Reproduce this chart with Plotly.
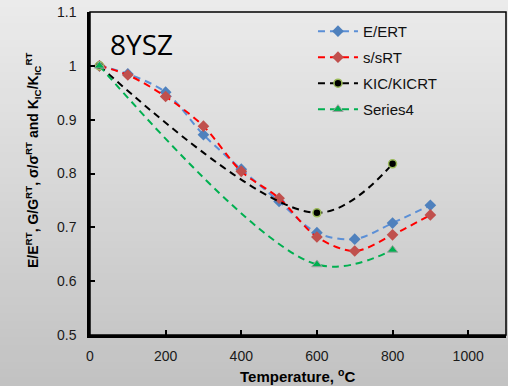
import plotly.graph_objects as go

# ---- data ----
temp_e = [25, 100, 200, 300, 400, 500, 600, 700, 800, 900]
e_ratio = [1.0, 0.985, 0.951, 0.872, 0.808, 0.748, 0.690, 0.678, 0.708, 0.741]
temp_s = [25, 100, 200, 300, 400, 500, 600, 700, 800, 900]
s_ratio = [1.0, 0.983, 0.943, 0.888, 0.804, 0.754, 0.682, 0.656, 0.686, 0.723]
temp_k = [25, 600, 800]
k_ratio = [1.0, 0.727, 0.818]
temp_g = [25, 600, 800]
g_ratio = [1.0, 0.631, 0.658]

x_ticks = [0, 200, 400, 600, 800, 1000]
y_ticks = [0.5, 0.6, 0.7, 0.8, 0.9, 1.0, 1.1]
y_tick_text = ["0.5", "0.6", "0.7", "0.8", "0.9", "1", "1.1"]

W, H = 508, 386
L, R, T, B = 90, 2, 12, 51

fig = go.Figure()

dash = "7px,5px"

fig.add_trace(go.Scatter(
    x=temp_e, y=e_ratio, name="E/ERT", mode="lines+markers",
    line=dict(color="#5B8FD6", width=2, dash=dash, shape="spline", smoothing=0.9),
    marker=dict(symbol="diamond", size=9, color="#4F81BD"),
    legendgroup="a"))
fig.add_trace(go.Scatter(
    x=temp_s, y=s_ratio, name="s/sRT", mode="lines+markers",
    line=dict(color="#FF0000", width=2, dash=dash, shape="spline", smoothing=0.9),
    marker=dict(symbol="diamond", size=9, color="#C0504D"),
    legendgroup="b"))
fig.add_trace(go.Scatter(
    x=temp_k, y=k_ratio, name="KIC/KICRT", mode="lines+markers",
    line=dict(color="#000000", width=2, dash=dash, shape="spline", smoothing=1),
    marker=dict(symbol="circle", size=8, color="#000000",
                line=dict(color="#9BBB59", width=1.5)),
    legendgroup="c"))
fig.add_trace(go.Scatter(
    x=temp_g, y=g_ratio, name="Series4", mode="lines+markers",
    line=dict(color="#00B050", width=2, dash=dash, shape="spline", smoothing=1),
    marker=dict(symbol="triangle-up", size=9, color="#00B050",
                line=dict(color="#A0A0A0", width=1)),
    legendgroup="d"))

# background vertical gradient approximated with bands
shapes = []
n = 48
top = (235, 235, 235)
bot = (194, 194, 194)
ph = H - T - B
pw = W - L - R
for i in range(n):
    f = i / (n - 1)
    c = tuple(int(round(top[k] + (bot[k] - top[k]) * f)) for k in range(3))
    y1 = 1 + T / ph - i * (H / ph) / n
    y0 = y1 - (H / ph) / n
    shapes.append(dict(type="rect", xref="paper", yref="paper",
                       x0=-L / pw - 0.01, x1=1 + R / pw + 0.01,
                       y0=y0 - 0.002, y1=y1 + 0.002, layer="below",
                       line=dict(width=0), fillcolor="rgb(%d,%d,%d)" % c))
shapes.append(dict(type="rect", xref="paper", yref="paper", x0=0, x1=1, y0=0, y1=1,
                   line=dict(color="black", width=1.5), layer="above"))

axis_font = dict(family="Liberation Sans, Arial", size=14, color="#1a1a1a")

fig.update_layout(
    width=W, height=H,
    margin=dict(l=L, r=R, t=T, b=B, pad=0),
    paper_bgcolor="#d8d8d8",
    plot_bgcolor="rgba(0,0,0,0)",
    shapes=shapes,
    showlegend=True,
    legend=dict(x=0.536, y=0.991, xanchor="left", yanchor="top",
                bgcolor="rgba(0,0,0,0)", font=dict(family="Liberation Sans, Arial", size=15, color="#111111"),
                traceorder="grouped", tracegroupgap=3.5, itemwidth=40),
    xaxis=dict(range=[0, 1100], tickvals=x_ticks, showgrid=False, zeroline=False,
               showline=True, linecolor="black", linewidth=2.5, mirror=False,
               ticks="inside", ticklen=5, tickwidth=1.5, tickcolor="black",
               tickfont=axis_font, ticklabelstandoff=6),
    yaxis=dict(range=[0.5, 1.1], tickvals=y_ticks, ticktext=y_tick_text,
               showgrid=False, zeroline=False,
               showline=True, linecolor="black", linewidth=2.5, mirror=False,
               ticks="inside", ticklen=5, tickwidth=1.5, tickcolor="black",
               tickfont=axis_font, ticklabelstandoff=8),
    annotations=[
        dict(text="8YSZ", xref="paper", yref="paper", x=(108 - L) / pw,
             y=1 - (44 - T) / ph, xanchor="left", yanchor="middle",
             showarrow=False, font=dict(family="Open Sans", size=28, color="black")),
        dict(text="<b>Temperature, <sup>o</sup>C</b>", xref="paper", yref="paper",
             x=0.5, y=-(375 - (H - B)) / ph, xanchor="center", yanchor="middle",
             showarrow=False, font=dict(family="Liberation Sans, Arial", size=15, color="black")),
        dict(text="<b>E/E<sup>RT</sup>, G/G<sup>RT</sup>, σ/σ<sup>RT</sup> and K<sub>IC</sub>/K<sub>IC</sub><sup>RT</sup></b>",
             xref="paper", yref="paper", textangle=-90,
             x=-(L - 33) / pw, y=1 - (160 - T) / ph,
             xanchor="center", yanchor="middle", showarrow=False,
             font=dict(family="Liberation Sans, Arial", size=14, color="black")),
    ],
)

fig.write_html("out.html", config={"displayModeBar": False},
               post_script="document.body.style.margin='0';document.body.style.overflow='hidden';")
